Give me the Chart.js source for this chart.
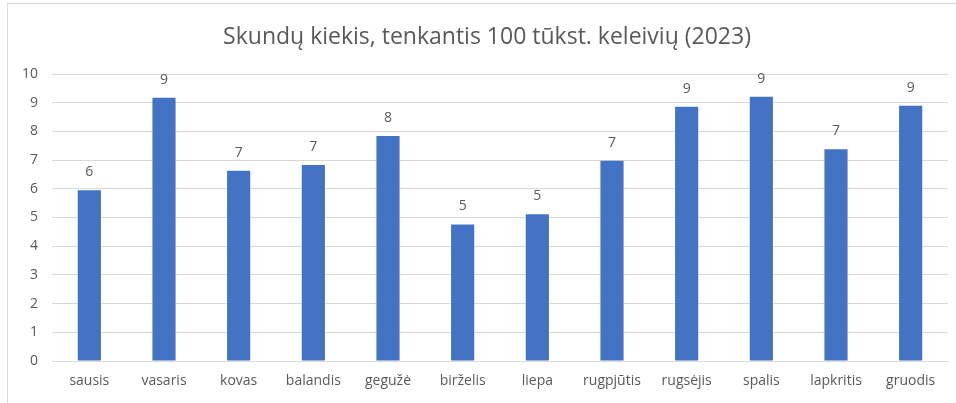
<!DOCTYPE html>
<html>
<head>
<meta charset="utf-8">
<script src="https://cdn.jsdelivr.net/npm/chart.js@4"></script>
<style>
  html, body { margin: 0; padding: 0; background: #fff; overflow: hidden; }
  #frame { position: absolute; left: 7px; top: 3px; width: 1000px; height: 500px; border: 1px solid #d9d9d9; }
  #wrap { position: absolute; left: 0; top: 0; width: 956px; height: 403px; }
</style>
</head>
<body>
<div id="frame"></div>
<div id="wrap"><canvas id="barChart"></canvas></div>
<script>
const months = ['sausis','vasaris','kovas','balandis','gegužė','birželis','liepa','rugpjūtis','rugsėjis','spalis','lapkritis','gruodis'];
const complaints = [5.95, 9.17, 6.63, 6.83, 7.84, 4.76, 5.11, 6.98, 8.86, 9.21, 7.38, 8.89];
const yTicks = [0,1,2,3,4,5,6,7,8,9,10];
const chartTitle = 'Skundų kiekis, tenkantis 100 tūkst. keleivių (2023)';

const textColor = '#595959';
const fontFamily = "'Open Sans', 'Noto Sans', sans-serif";

// title is centred on the outer frame, not on the canvas, so draw it here
const frameTitle = {
  id: 'frameTitle',
  afterDraw(chart) {
    const ctx = chart.ctx;
    ctx.save();
    ctx.fillStyle = textColor;
    ctx.font = '23px ' + fontFamily;
    ctx.textAlign = 'center';
    ctx.textBaseline = 'middle';
    ctx.fillText(chartTitle, 487, 37);
    ctx.restore();
  }
};

// draws the rounded value above each bar
const valueLabels = {
  id: 'valueLabels',
  afterDatasetsDraw(chart) {
    const ctx = chart.ctx;
    const meta = chart.getDatasetMeta(0);
    ctx.save();
    ctx.fillStyle = textColor;
    ctx.font = '14px ' + fontFamily;
    ctx.textAlign = 'center';
    ctx.textBaseline = 'middle';
    meta.data.forEach((bar, i) => {
      ctx.fillText(String(Math.round(complaints[i])), bar.x, bar.y - 18);
    });
    ctx.restore();
  }
};

new Chart(document.getElementById('barChart'), {
  type: 'bar',
  data: {
    labels: months,
    datasets: [{
      data: complaints,
      backgroundColor: '#4472C4',
      categoryPercentage: 1,
      barPercentage: 0.31
    }]
  },
  options: {
    responsive: true,
    maintainAspectRatio: false,
    animation: false,
    layout: { padding: { left: 0, right: 8, top: 74, bottom: 0 } },
    plugins: {
      legend: { display: false },
      tooltip: { enabled: false },
      title: { display: false }
    },
    scales: {
      x: {
        grid: { display: false, drawTicks: false },
        border: { display: true, color: '#d9d9d9' },
        ticks: { color: textColor, font: { family: fontFamily, size: 14 }, padding: 12, maxRotation: 0 },
        afterFit(scale) { scale.height = 42; }
      },
      y: {
        min: 0,
        max: 10,
        afterBuildTicks(scale) { scale.ticks = yTicks.map(v => ({ value: v })); },
        grid: { color: '#d9d9d9', drawTicks: false },
        border: { display: false },
        ticks: { color: textColor, font: { family: fontFamily, size: 14 }, padding: 14 },
        afterFit(scale) { scale.width = 52; }
      }
    }
  },
  plugins: [valueLabels, frameTitle]
});
</script>
</body>
</html>
